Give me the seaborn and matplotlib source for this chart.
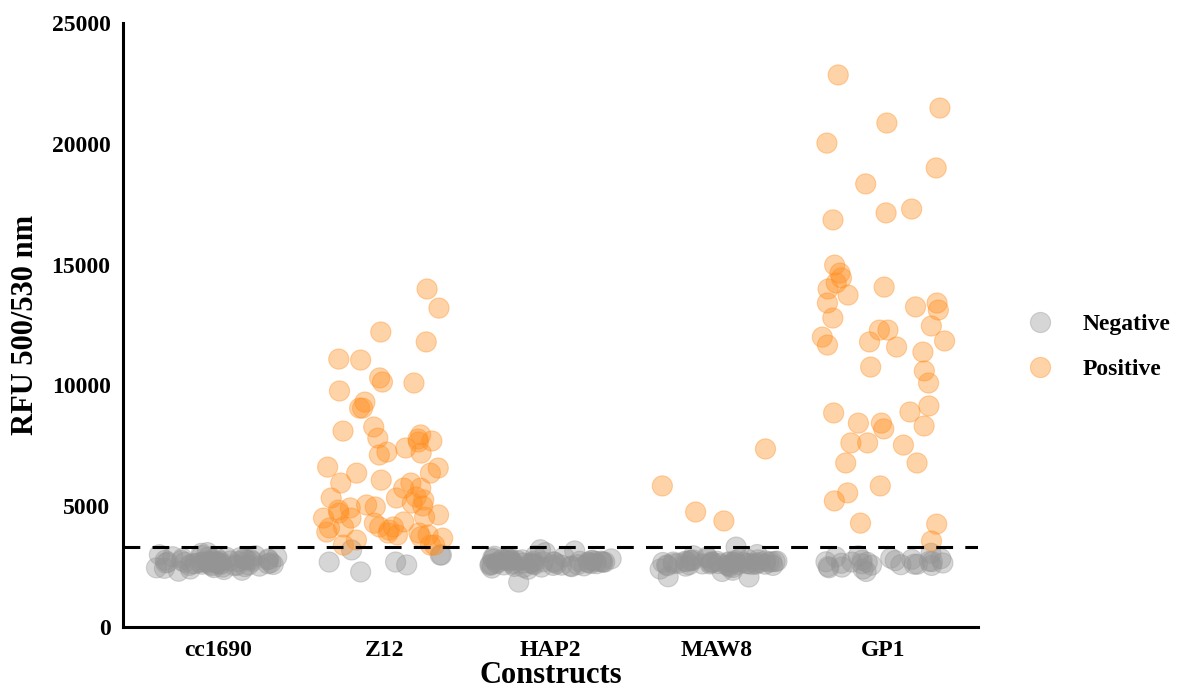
import numpy as np
import pandas as pd
import matplotlib
matplotlib.use("Agg")
import matplotlib.pyplot as plt
import seaborn as sns

# ----- data -----
constructs = ["cc1690", "Z12", "HAP2", "MAW8", "GP1"]
threshold = 3300

cc1690_neg = [2650, 2720, 2580, 2810, 2900, 2480, 2690, 2760, 2550, 2620, 2870, 2950,
              2700, 2430, 2610, 2780, 2840, 2530, 2660, 2990, 2740, 2590, 2680, 2380,
              2820, 2910, 2640, 2570, 2710, 2460, 2750, 2850, 2600, 2690, 3050, 2520,
              2790, 2630, 2880, 2400, 2730, 2670, 2560, 2960, 2810, 2500, 2700, 2620,
              2310, 2770, 2890, 2650, 2540, 2720, 3080, 2450, 2680, 2830, 2590, 2350]

z12_neg = [2980, 2570, 2690, 2280, 2690, 3190, 2980]
z12_pos = [13200, 13990, 12210, 11800, 11090, 11050, 10310, 10100, 10140, 9770, 9310,
           9060, 9060, 8110, 8280, 7820, 7780, 7950, 7240, 7120, 7660, 7700, 7410, 7200,
           6580, 6620, 6370, 6370, 6080, 5750, 5960, 5960, 5750, 5340, 5050, 5010, 4970,
           5340, 5130, 5260, 5380, 4510, 4300, 4140, 4100, 4010, 3810, 4550, 4640, 4840,
           4510, 4350, 4720, 4930, 4140, 4140, 3890, 3810, 3930, 3890, 3730, 3680, 3600,
           3390, 3390, 3390]

hap2_neg = [2650, 2700, 2580, 2760, 2880, 2520, 2690, 2610, 2740, 2800, 2470, 2660,
            2930, 2550, 2720, 2630, 2850, 2590, 2700, 3150, 2480, 2770, 2640, 2560,
            2690, 2820, 1860, 2600, 2750, 2680, 3080, 2530, 2710, 2900, 2620, 2440,
            2780, 2650, 2570, 2730, 2860, 2500, 2690, 2610, 3200, 2760, 2550, 2680,
            2390, 2720, 2840, 2600, 2660, 2950, 2510, 2700, 2630, 2800, 2580, 2740]

maw8_neg = [2650, 2580, 2720, 2690, 2610, 2750, 2540, 2800, 2670, 2630, 2700, 2490,
            2760, 2590, 2680, 3310, 2620, 2710, 2550, 2850, 2660, 2400, 2730, 2600,
            2690, 2070, 2640, 2780, 2520, 2700, 2570, 2740, 2680, 2610, 2080, 2830,
            2650, 2460, 2720, 2590, 2690, 3000, 2560, 2750, 2630, 2350, 2710, 2670,
            2900, 2600, 2780, 2540, 2660, 2950, 2620, 2300, 2700]
maw8_pos = [7370, 5840, 4390, 4760]

gp1_neg = [2700, 2600, 2850, 2550, 2750, 2400, 2650, 2900, 2500, 2800, 2680, 2300,
           2720, 2620, 3050, 2580, 2760, 2450, 2690, 2830, 2560, 2640, 2950, 2710,
           2480, 2600]
gp1_pos = [22850, 21480, 20860, 20030, 19000, 18340, 17300, 17140, 16850, 14980, 14650,
           14450, 13990, 13410, 13120, 12790, 14070, 14240, 13740, 13250, 13410, 12290,
           12000, 11840, 11670, 11800, 12290, 12460, 11380, 11590, 10760, 10600, 10100,
           9150, 8900, 8860, 8440, 8440, 8200, 8320, 7620, 7530, 7620, 6790, 6790, 5840,
           5220, 5550, 4260, 4300, 3560]

groups = {
    "cc1690": (cc1690_neg, []),
    "Z12": (z12_neg, z12_pos),
    "HAP2": (hap2_neg, []),
    "MAW8": (maw8_neg, maw8_pos),
    "GP1": (gp1_neg, gp1_pos),
}

rows = []
for name in constructs:
    neg, pos = groups[name]
    rows += [(name, v, "Negative") for v in neg]
    rows += [(name, v, "Positive") for v in pos]
df = pd.DataFrame(rows, columns=["Construct", "RFU", "Result"])

# ----- plot -----
sns.set_style("white")
plt.rcParams["font.family"] = ["Liberation Serif", "DejaVu Serif"]
plt.rcParams["font.weight"] = "bold"
plt.rcParams["text.color"] = "black"
plt.rcParams["axes.labelcolor"] = "black"
plt.rcParams["xtick.color"] = "black"
plt.rcParams["ytick.color"] = "black"

fig = plt.figure(figsize=(11.89, 6.93), dpi=100)
ax = fig.add_axes([0.1035, 0.0952, 0.719, 0.8716])

np.random.seed(7)
palette = {"Negative": "#949494", "Positive": "#FF8C1A"}
sns.stripplot(data=df, x="Construct", y="RFU", hue="Result", order=constructs,
              hue_order=["Negative", "Positive"], palette=palette, jitter=0.37,
              size=14.5, alpha=0.38, linewidth=0.8, edgecolor="face", ax=ax, zorder=3)

ax.axhline(threshold, color="black", linestyle=(0, (5.5, 4)), linewidth=2.2, zorder=4)

ax.set_xlim(-0.57, 4.57)
ax.set_ylim(0, 25000)
ax.set_yticks([0, 5000, 10000, 15000, 20000, 25000])
ax.set_xlabel("Constructs", fontsize=22, fontweight="bold", labelpad=0)
ax.set_ylabel("RFU 500/530 nm", fontsize=22, fontweight="bold", labelpad=8)
ax.tick_params(axis="both", labelsize=17, width=2, length=5, direction="out",
               color="#333333", labelcolor="black", pad=4)
for lab in ax.get_xticklabels() + ax.get_yticklabels():
    lab.set_fontweight("bold")

for side in ["top", "right"]:
    ax.spines[side].set_visible(False)
for side in ["left", "bottom"]:
    ax.spines[side].set_linewidth(2.2)
    ax.spines[side].set_color("black")

leg = ax.legend(loc="center left", bbox_to_anchor=(1.02, 0.464), frameon=False,
                title=None, prop={"size": 17, "weight": "bold"},
                handletextpad=0.8, labelspacing=1.0, markerscale=1.0)
for h in leg.legend_handles:
    h.set_alpha(0.38)
for t in leg.get_texts():
    t.set_color("black")

fig.savefig("out.png", dpi=100)
